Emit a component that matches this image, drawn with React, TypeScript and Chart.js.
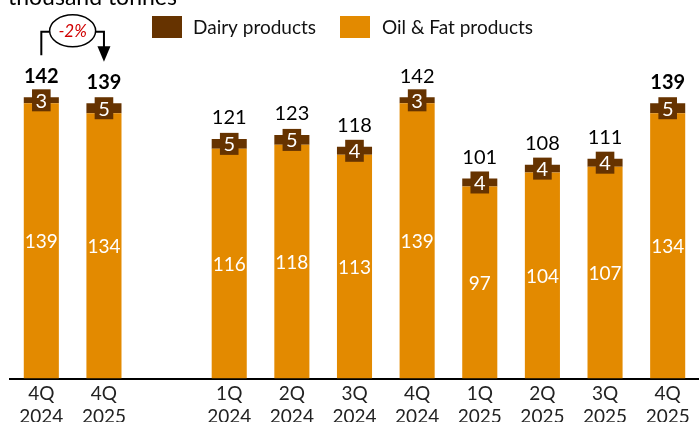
import React, { useEffect, useRef } from 'react';
import { Chart, registerables } from 'chart.js';

Chart.register(...registerables);

const categories: string[][] = [
  ['4Q', '2024'], ['4Q', '2025'], ['', ''],
  ['1Q', '2024'], ['2Q', '2024'], ['3Q', '2024'], ['4Q', '2024'],
  ['1Q', '2025'], ['2Q', '2025'], ['3Q', '2025'], ['4Q', '2025'],
];
const oilFat: (number | null)[] = [139, 134, null, 116, 118, 113, 139, 97, 104, 107, 134];
const dairy: (number | null)[] = [3, 5, null, 5, 5, 4, 3, 4, 4, 4, 5];
const totals: (number | null)[] = [142, 139, null, 121, 123, 118, 142, 101, 108, 111, 139];
const boldTotals: boolean[] = [true, true, false, false, false, false, false, false, false, false, true];
const seriesNames = ['Oil & Fat products', 'Dairy products'];
const unitTitle = 'thousand tonnes';
const changeLabel = '-2%';

const OIL = '#E38A00';
const DAIRY = '#663300';
const FONT = 'Lato, "Open Sans", sans-serif';

const overlay = {
  id: 'overlay',
  afterDatasetsDraw(chart: any) {
    const ctx: CanvasRenderingContext2D = chart.ctx;
    const oilMeta = chart.getDatasetMeta(0);
    const dMeta = chart.getDatasetMeta(1);
    ctx.save();
    ctx.textAlign = 'center';
    ctx.textBaseline = 'middle';
    oilMeta.data.forEach((bar: any, i: number) => {
      if (oilFat[i] == null) return;
      const p = bar.getProps(['x', 'y', 'base'], true);
      ctx.fillStyle = '#ffffff';
      ctx.font = `19px ${FONT}`;
      ctx.fillText(String(oilFat[i]), p.x, (p.y + p.base) / 2 + 1);
    });
    const tops: number[] = [];
    const xs: number[] = [];
    dMeta.data.forEach((bar: any, i: number) => {
      if (dairy[i] == null) return;
      const p = bar.getProps(['x', 'y', 'base'], true);
      tops[i] = p.y;
      xs[i] = p.x;
      const cy = (p.y + p.base) / 2;
      ctx.font = `20px ${FONT}`;
      const txt = String(dairy[i]);
      const w = ctx.measureText(txt).width + 7;
      ctx.fillStyle = DAIRY;
      ctx.fillRect(p.x - w / 2, cy - 11, w, 22);
      ctx.fillStyle = '#ffffff';
      ctx.fillText(txt, p.x, cy + 1);
      if (totals[i] != null) {
        ctx.fillStyle = '#000000';
        ctx.font = `${boldTotals[i] ? 'bold ' : ''}20px ${FONT}`;
        ctx.fillText(String(totals[i]), p.x, p.y - 21);
      }
    });

    // change annotation between first two bars
    if (xs[0] != null && xs[1] != null) {
      const x0 = xs[0];
      const x1 = xs[1];
      const hy = tops[0] - 65.5;
      const cx = (x0 + x1) / 2;
      const rx = 23;
      const ry = 16;
      ctx.strokeStyle = '#000';
      ctx.lineWidth = 2;
      ctx.beginPath();
      ctx.moveTo(x0, tops[0] - 42);
      ctx.lineTo(x0, hy);
      ctx.lineTo(cx - rx, hy);
      ctx.moveTo(cx + rx, hy);
      ctx.lineTo(x1, hy);
      ctx.lineTo(x1, tops[1] - 56);
      ctx.stroke();
      ctx.fillStyle = '#000';
      ctx.beginPath();
      ctx.moveTo(x1 - 6.5, tops[1] - 57);
      ctx.lineTo(x1 + 6.5, tops[1] - 57);
      ctx.lineTo(x1, tops[1] - 41.5);
      ctx.closePath();
      ctx.fill();
      ctx.beginPath();
      ctx.ellipse(cx, hy - 1, rx, ry, 0, 0, Math.PI * 2);
      ctx.fillStyle = '#fff';
      ctx.fill();
      ctx.lineWidth = 1.5;
      ctx.stroke();
      ctx.fillStyle = '#D00000';
      ctx.font = `italic 17px ${FONT}`;
      ctx.fillText(changeLabel, cx, hy);
    }

    // unit title (partially cut at top)
    ctx.textAlign = 'left';
    ctx.textBaseline = 'alphabetic';
    ctx.fillStyle = '#000';
    ctx.font = `23px ${FONT}`;
    ctx.fillText(unitTitle, 8, 4.5);

    // legend
    ctx.textBaseline = 'middle';
    ctx.font = `19px ${FONT}`;
    const legend = [
      { name: seriesNames[1], color: DAIRY, bx: 152, tx: 193 },
      { name: seriesNames[0], color: OIL, bx: 340, tx: 382 },
    ];
    legend.forEach((l) => {
      ctx.fillStyle = l.color;
      ctx.fillRect(l.bx, 16, 30, 22);
      ctx.fillStyle = '#111';
      ctx.fillText(l.name, l.tx, 28);
    });
    ctx.restore();
  },
};

export default function App() {
  const ref = useRef<HTMLCanvasElement | null>(null);
  useEffect(() => {
    document.body.style.margin = '0';
    if (!ref.current) return;
    const chart = new Chart(ref.current, {
      type: 'bar',
      data: {
        labels: categories,
        datasets: [
          { label: seriesNames[0], data: oilFat, backgroundColor: OIL, barPercentage: 0.56, categoryPercentage: 1 },
          { label: seriesNames[1], data: dairy, backgroundColor: DAIRY, barPercentage: 0.56, categoryPercentage: 1 },
        ],
      },
      options: {
        animation: false,
        responsive: false,
        maintainAspectRatio: false,
        layout: { padding: { left: 10, right: 0, top: 81.5, bottom: 0 } },
        plugins: { legend: { display: false }, tooltip: { enabled: false } },
        scales: {
          x: {
            stacked: true,
            grid: { display: false, drawTicks: false },
            border: { display: true, color: '#000', width: 2 },
            ticks: { color: '#222', font: { family: FONT, size: 19 }, padding: 4, maxRotation: 0, autoSkip: false },
            afterFit: (s: any) => { s.height = 43.5; },
          },
          y: { stacked: true, display: false, min: 0, max: 150 },
        },
      },
      plugins: [overlay],
    });
    return () => chart.destroy();
  }, []);
  return (
    <div style={{ width: 699, height: 422, position: 'relative', background: '#fff' }}>
      <canvas ref={ref} width={699} height={422} style={{ display: 'block' }} />
    </div>
  );
}
